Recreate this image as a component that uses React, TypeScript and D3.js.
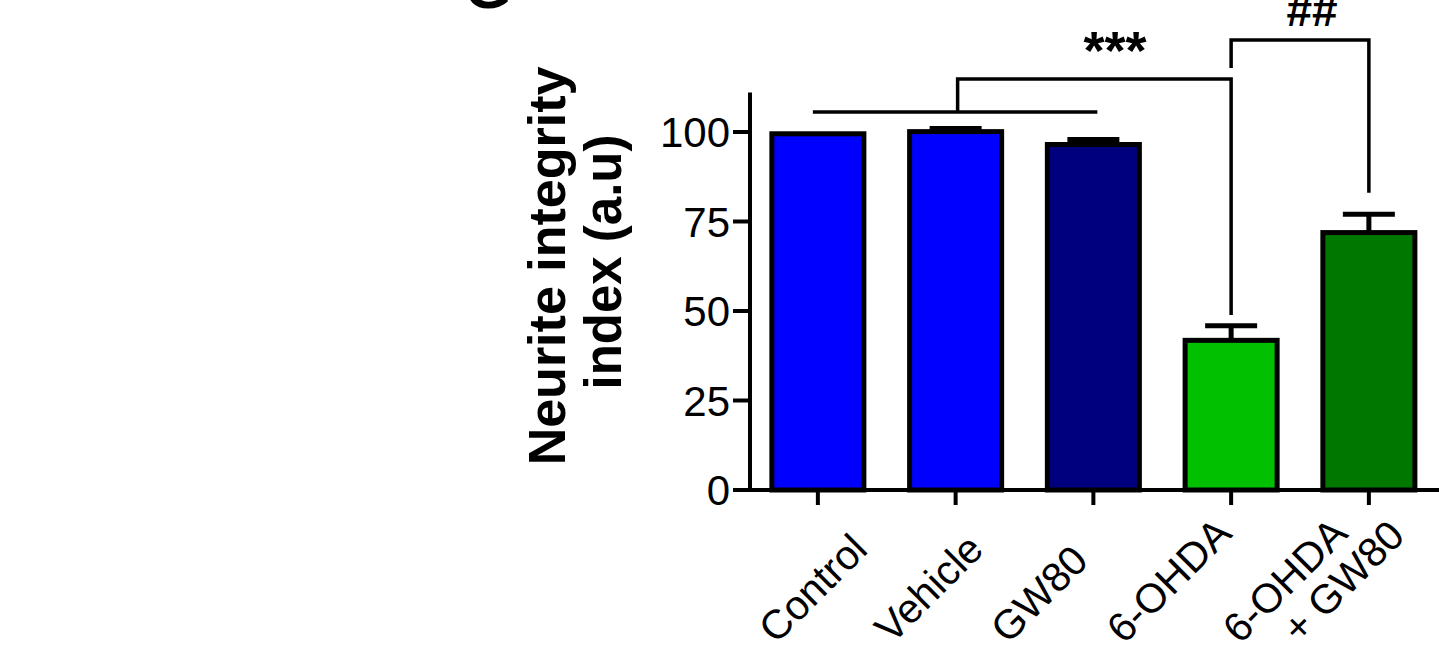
import React from "react";
import * as d3 from "d3";

const categories = ["Control", "Vehicle", "GW80", "6-OHDA", "6-OHDA + GW80"];
const labelLines = [["Control"], ["Vehicle"], ["GW80"], ["6-OHDA"], ["6-OHDA", "+ GW80"]];
const means = [99.5, 100.1, 96.5, 41.8, 71.9];
const sems = [0, 0.9, 1.4, 4.1, 5.1];
const barColors = ["#0000ff", "#0000ff", "#00007e", "#00c000", "#007800"];
const yTicks = [0, 25, 50, 75, 100];
// significance annotations (values in a.u.)
const sigLowerBar = { from: 0, to: 2, level: 105.6 };
const sigMain = { from: 1, to: 3, top: 114.8, drop: 48.9, label: "***" };
const sigHash = { from: 3, to: 4, top: 125.7, leftDrop: 117.9, rightDrop: 83.0, label: "##" };

const W = 1439;
const H = 661;
const FONT = "'Liberation Sans', Arial, Helvetica, sans-serif";

export default function App() {
  const x = d3.scaleBand<string>().domain(categories).range([749, 1437.75]).paddingInner(0.332).paddingOuter(0.166);
  const y = d3.scaleLinear().domain([0, 111]).range([490, 92.6]);
  const labelX = d3.scalePoint<string>().domain(categories).range([776, 1240]);
  const cx = (i: number) => (x(categories[i]) as number) + x.bandwidth() / 2;
  const bw = x.bandwidth();

  const bracketStroke = 3.5;
  const axisStroke = 4;

  return (
    <svg width={W} height={H} style={{ position: "absolute", left: 0, top: 0, background: "#fff" }} fontFamily={FONT}>
      <rect x={0} y={0} width={W} height={H} fill="#fff" />
      {/* partial panel letter */}
      <text x={488} y={8} fontSize={60} fontWeight="bold" textAnchor="middle" fill="#000">G</text>

      {/* y axis title */}
      <text transform="translate(565,266) rotate(-90)" textAnchor="middle" fontSize={52} fontWeight="bold" fill="#000">Neurite integrity</text>
      <text transform="translate(621,262) rotate(-90)" textAnchor="middle" fontSize={51} fontWeight="bold" fill="#000">index (a.u)</text>

      {/* bars */}
      {categories.map((c, i) => (
        <rect key={c} x={x(c)} y={y(means[i])} width={bw} height={y(0) - y(means[i])} fill={barColors[i]} stroke="#000" strokeWidth={5} />
      ))}
      {/* error bars */}
      {categories.map((c, i) =>
        sems[i] > 0 ? (
          <g key={"e" + c} stroke="#000" strokeWidth={5}>
            <line x1={cx(i)} x2={cx(i)} y1={y(means[i])} y2={y(means[i] + sems[i])} />
            <line x1={cx(i) - 26} x2={cx(i) + 26} y1={y(means[i] + sems[i])} y2={y(means[i] + sems[i])} />
          </g>
        ) : null
      )}

      {/* y axis */}
      <line x1={750} x2={750} y1={y(111)} y2={y(0) + 2} stroke="#000" strokeWidth={axisStroke} />
      {yTicks.map((t) => (
        <g key={t}>
          <line x1={733} x2={750} y1={y(t)} y2={y(t)} stroke="#000" strokeWidth={axisStroke} />
          <text x={730} y={y(t)} dy="0.36em" textAnchor="end" fontSize={42} fill="#000">{t}</text>
        </g>
      ))}
      {/* x axis */}
      <line x1={733} x2={W} y1={y(0)} y2={y(0)} stroke="#000" strokeWidth={axisStroke} />
      {categories.map((c, i) => (
        <line key={"t" + c} x1={cx(i)} x2={cx(i)} y1={y(0)} y2={y(0) + 15} stroke="#000" strokeWidth={axisStroke} />
      ))}
      {categories.map((c, i) => (
        <text key={"l" + c} transform={`translate(${labelX(c)},645) rotate(-45)`} fontSize={41} fill="#000">
          {labelLines[i].map((ln, k) => (
            <tspan key={k} x={k === 0 ? 0 : 42} dy={k === 0 ? 0 : 42}>{ln}</tspan>
          ))}
        </text>
      ))}

      {/* significance brackets */}
      <g stroke="#000" strokeWidth={bracketStroke} fill="none">
        <line x1={cx(sigLowerBar.from) - 5} x2={cx(sigLowerBar.to) + 4} y1={y(sigLowerBar.level)} y2={y(sigLowerBar.level)} />
        <polyline points={`${cx(sigMain.from) + 2},${y(sigLowerBar.level)} ${cx(sigMain.from) + 2},${y(sigMain.top)} ${cx(sigMain.to)},${y(sigMain.top)} ${cx(sigMain.to)},${y(sigMain.drop)}`} />
        <polyline points={`${cx(sigHash.from)},${y(sigHash.leftDrop)} ${cx(sigHash.from)},${y(sigHash.top)} ${cx(sigHash.to)},${y(sigHash.top)} ${cx(sigHash.to)},${y(sigHash.rightDrop)}`} />
      </g>
      <text x={1115} y={69} textAnchor="middle" fontSize={54} fontWeight="bold" fill="#000">{sigMain.label}</text>
      <text x={1312} y={26} textAnchor="middle" fontSize={46} fontWeight="bold" fill="#000">{sigHash.label}</text>
    </svg>
  );
}
